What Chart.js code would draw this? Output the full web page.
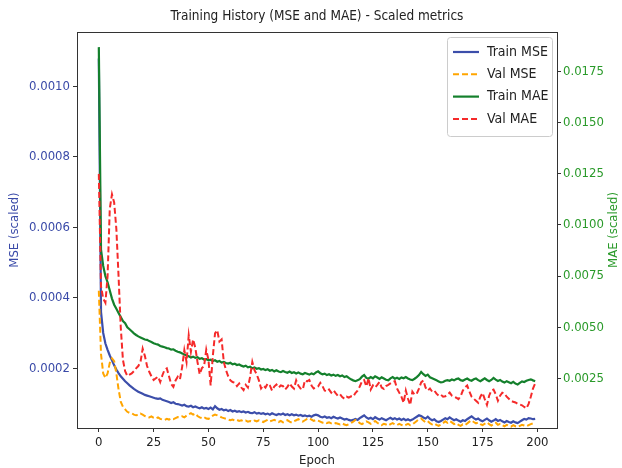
<!DOCTYPE html>
<html>
<head>
<meta charset="utf-8">
<script src="https://cdn.jsdelivr.net/npm/chart.js@4.4.1/dist/chart.umd.min.js"></script>
<style>
  html, body { margin: 0; padding: 0; background: #fff; }
  canvas { display: block; }
</style>
</head>
<body>
<canvas id="chartHistory" width="622" height="468"></canvas>
<script>
// values, one per epoch (0..199)
const epochs = Array.from({length: 200}, (_, i) => i)
const xTicks = [0, 25, 50, 75, 100, 125, 150, 175, 200]

const trainMse = [
  0.00108, 0.00036, 0.00030, 0.00027, 0.000252, 0.000236, 0.000222, 0.000208, 0.000196, 0.000186,
  0.000177, 0.000170, 0.000163, 0.000157, 0.000151, 0.000146, 0.000141, 0.000137, 0.000133, 0.000130,
  0.000127, 0.000124, 0.000122, 0.000120, 0.000118, 0.000116, 0.000114, 0.000113, 0.000114, 0.000110,
  0.000108, 0.000106, 0.000104, 0.000101, 0.000103, 0.000099, 0.000098, 0.000096, 0.000094, 0.000096,
  0.000092, 0.000091, 0.000093, 0.000089, 0.000091, 0.000088, 0.000086, 0.000089, 0.000085, 0.000087,
  0.000084, 0.000088, 0.000083, 0.000092, 0.000086, 0.000082, 0.000084, 0.000080, 0.000082, 0.000078,
  0.000081, 0.000077, 0.000079, 0.000076, 0.000078, 0.000075, 0.000077, 0.000074, 0.000076, 0.000073,
  0.000072, 0.000075, 0.000071, 0.000073, 0.000070, 0.000072, 0.000069, 0.000071, 0.000068, 0.000072,
  0.000069, 0.000067, 0.000070, 0.000068, 0.000071, 0.000067, 0.000069, 0.000066, 0.000069, 0.000066,
  0.000068, 0.000065, 0.000067, 0.000064, 0.000066, 0.000063, 0.000065, 0.000062, 0.000066, 0.000068,
  0.000066, 0.000062, 0.000060, 0.000063, 0.000059, 0.000061, 0.000058, 0.000062, 0.000059, 0.000057,
  0.000060, 0.000057, 0.000054, 0.000056, 0.000053, 0.000051, 0.000053, 0.000056, 0.000053, 0.000058,
  0.000062, 0.000066, 0.000060, 0.000056, 0.000059, 0.000055, 0.000061, 0.000057, 0.000054, 0.000058,
  0.000055, 0.000052, 0.000056, 0.000059, 0.000055, 0.000058, 0.000054, 0.000057, 0.000053, 0.000056,
  0.000052, 0.000055, 0.000051, 0.000054, 0.000058, 0.000062, 0.000066, 0.000064, 0.000060, 0.000057,
  0.000062, 0.000056, 0.000052, 0.000055, 0.000049, 0.000047, 0.000050, 0.000054, 0.000058, 0.000055,
  0.000060, 0.000056, 0.000052, 0.000055, 0.000051, 0.000048, 0.000052, 0.000050, 0.000055, 0.000059,
  0.000063, 0.000058, 0.000054, 0.000057, 0.000052, 0.000049, 0.000053, 0.000057, 0.000052, 0.000048,
  0.000051, 0.000055, 0.000050, 0.000053, 0.000049, 0.000046, 0.000050, 0.000047, 0.000045, 0.000049,
  0.000046, 0.000044, 0.000048, 0.000052, 0.000056, 0.000054, 0.000058, 0.000057, 0.000055, 0.000056
]

const valMse = [
  0.00042, 0.00024, 0.000185, 0.000172, 0.000185, 0.000215, 0.000228, 0.000220, 0.000185, 0.000140,
  0.000105, 0.000090, 0.000083, 0.000076, 0.000073, 0.000072, 0.000068, 0.000066, 0.000067, 0.000071,
  0.000068, 0.000064, 0.000062, 0.000060, 0.000063, 0.000059, 0.000057, 0.000060, 0.000056, 0.000054,
  0.000053, 0.000056, 0.000054, 0.000057, 0.000055, 0.000058, 0.000061, 0.000060, 0.000063, 0.000060,
  0.000065, 0.000069, 0.000072, 0.000068, 0.000071, 0.000064, 0.000060, 0.000058, 0.000061, 0.000057,
  0.000056, 0.000060, 0.000065, 0.000068, 0.000066, 0.000063, 0.000060, 0.000058, 0.000056, 0.000054,
  0.000052, 0.000054, 0.000051, 0.000053, 0.000050, 0.000052, 0.000049, 0.000051, 0.000048, 0.000050,
  0.000048, 0.000051, 0.000049, 0.000052, 0.000050, 0.000047, 0.000050, 0.000053, 0.000049, 0.000051,
  0.000053, 0.000050, 0.000047, 0.000050, 0.000046, 0.000049, 0.000052, 0.000048, 0.000045, 0.000049,
  0.000052, 0.000055, 0.000051, 0.000048, 0.000052, 0.000056, 0.000058, 0.000054, 0.000050, 0.000053,
  0.000051, 0.000048, 0.000045, 0.000047, 0.000044, 0.000046, 0.000043, 0.000041, 0.000044, 0.000042,
  0.000040, 0.000043, 0.000040, 0.000038, 0.000041, 0.000044, 0.000048, 0.000053, 0.000049, 0.000044,
  0.000041, 0.000045, 0.000049, 0.000046, 0.000042, 0.000046, 0.000050, 0.000045, 0.000041, 0.000038,
  0.000042, 0.000040, 0.000037, 0.000041, 0.000044, 0.000040, 0.000038, 0.000042, 0.000039, 0.000036,
  0.000039, 0.000042, 0.000038, 0.000040, 0.000045, 0.000050, 0.000055, 0.000057, 0.000051, 0.000046,
  0.000049, 0.000044, 0.000040, 0.000043, 0.000039, 0.000036, 0.000040, 0.000044, 0.000049, 0.000045,
  0.000050, 0.000046, 0.000041, 0.000044, 0.000039, 0.000036, 0.000040, 0.000038, 0.000043, 0.000048,
  0.000052, 0.000047, 0.000043, 0.000046, 0.000041, 0.000038, 0.000042, 0.000046, 0.000041, 0.000037,
  0.000041, 0.000045, 0.000039, 0.000042, 0.000038, 0.000035, 0.000039, 0.000036, 0.000034, 0.000038,
  0.000035, 0.000033, 0.000036, 0.000039, 0.000037, 0.000035, 0.000038, 0.000041, 0.000043, 0.000045
]

const trainMae = [
  0.0187, 0.0088, 0.0080, 0.0075, 0.0072, 0.0068, 0.0064, 0.0061, 0.0059, 0.0057,
  0.0055, 0.0053, 0.0052, 0.0050, 0.0049, 0.0048, 0.0047, 0.00462, 0.00455, 0.00450,
  0.00445, 0.00440, 0.00438, 0.00432, 0.00428, 0.00422, 0.00418, 0.00415, 0.00408, 0.00405,
  0.00402, 0.00398, 0.00396, 0.00390, 0.00392, 0.00385, 0.00380, 0.00377, 0.00372, 0.00366,
  0.00362, 0.00358, 0.00352, 0.00356, 0.00350, 0.00353, 0.00345, 0.00348, 0.00342, 0.00344,
  0.00338, 0.00341, 0.00334, 0.00338, 0.00331, 0.00335, 0.00327, 0.00330, 0.00325, 0.00322,
  0.00326, 0.00318, 0.00321, 0.00315, 0.00318, 0.00312, 0.00308, 0.00312, 0.00304, 0.00307,
  0.00299, 0.00303, 0.00297, 0.00300, 0.00293, 0.00296, 0.00290, 0.00294, 0.00287, 0.00291,
  0.00284, 0.00289, 0.00283, 0.00280, 0.00286, 0.00281, 0.00277, 0.00283, 0.00276, 0.00280,
  0.00274, 0.00279, 0.00273, 0.00270, 0.00276, 0.00272, 0.00268, 0.00274, 0.00270, 0.00279,
  0.00284, 0.00275, 0.00270, 0.00273, 0.00266, 0.00270, 0.00264, 0.00268, 0.00262, 0.00266,
  0.00260, 0.00264, 0.00256, 0.00260, 0.00252, 0.00245, 0.00240, 0.00236, 0.00241, 0.00246,
  0.00258, 0.00266, 0.00252, 0.00248, 0.00256, 0.00250, 0.00260, 0.00254, 0.00247, 0.00255,
  0.00249, 0.00243, 0.00240, 0.00250, 0.00256, 0.00248, 0.00253, 0.00247, 0.00254, 0.00250,
  0.00256, 0.00249, 0.00244, 0.00241, 0.00248, 0.00256, 0.00266, 0.00281, 0.00270, 0.00262,
  0.00268, 0.00255, 0.00250, 0.00245, 0.00240, 0.00235, 0.00230, 0.00232, 0.00238, 0.00241,
  0.00238, 0.00244, 0.00240, 0.00246, 0.00249, 0.00241, 0.00238, 0.00244, 0.00249, 0.00242,
  0.00238, 0.00245, 0.00249, 0.00241, 0.00236, 0.00243, 0.00250, 0.00242, 0.00236, 0.00242,
  0.00252, 0.00244, 0.00237, 0.00242, 0.00234, 0.00229, 0.00236, 0.00231, 0.00226, 0.00233,
  0.00224, 0.00220, 0.00228, 0.00235, 0.00232, 0.00238, 0.00242, 0.00245, 0.00240, 0.00236
]

const valMae = [
  0.0125, 0.0070, 0.0064, 0.0062, 0.0075, 0.0108, 0.0115, 0.0111, 0.0098, 0.0075,
  0.0050, 0.0034, 0.00285, 0.00262, 0.00268, 0.00274, 0.00285, 0.00299, 0.00310, 0.00330,
  0.00395, 0.00360, 0.00310, 0.00282, 0.00260, 0.00242, 0.00250, 0.00258, 0.00232, 0.00265,
  0.00292, 0.00299, 0.00260, 0.00222, 0.00208, 0.00240, 0.00258, 0.00245, 0.00305, 0.00388,
  0.00330, 0.00460, 0.00380, 0.00440, 0.00400, 0.00330, 0.00270, 0.00300, 0.00310, 0.00390,
  0.00340, 0.00215, 0.00360, 0.00470, 0.00485, 0.00430, 0.00440, 0.00330, 0.00290, 0.00260,
  0.00240, 0.00232, 0.00228, 0.00212, 0.00225, 0.00205, 0.00192, 0.00218, 0.00205, 0.00258,
  0.00330, 0.00290, 0.00270, 0.00240, 0.00200, 0.00215, 0.00205, 0.00225, 0.00215, 0.00190,
  0.00210, 0.00220, 0.00205, 0.00215, 0.00212, 0.00195, 0.00208, 0.00225, 0.00210, 0.00200,
  0.00240, 0.00215, 0.00200, 0.00195, 0.00240, 0.00235, 0.00242, 0.00215, 0.00200, 0.00205,
  0.00210, 0.00228, 0.00212, 0.00190, 0.00185, 0.00195, 0.00180, 0.00192, 0.00178, 0.00165,
  0.00172, 0.00158, 0.00150, 0.00160, 0.00156, 0.00162, 0.00160, 0.00178, 0.00190, 0.00210,
  0.00235, 0.00242, 0.00210, 0.00250, 0.00195, 0.00215, 0.00205, 0.00218, 0.00232, 0.00205,
  0.00198, 0.00212, 0.00218, 0.00225, 0.00232, 0.00236, 0.00200, 0.00180, 0.00160, 0.00130,
  0.00190, 0.00150, 0.00120, 0.00185, 0.00170, 0.00175, 0.00200, 0.00230, 0.00240, 0.00205,
  0.00190, 0.00200, 0.00185, 0.00190, 0.00175, 0.00165, 0.00170, 0.00160, 0.00162, 0.00170,
  0.00180, 0.00165, 0.00160, 0.00155, 0.00148, 0.00162, 0.00190, 0.00205, 0.00215, 0.00185,
  0.00160, 0.00150, 0.00140, 0.00130, 0.00160, 0.00178, 0.00148, 0.00120, 0.00165, 0.00190,
  0.00195, 0.00172, 0.00140, 0.00165, 0.00180, 0.00176, 0.00160, 0.00150, 0.00140, 0.00135,
  0.00132, 0.00125, 0.00122, 0.00118, 0.00110, 0.00103, 0.00125, 0.00160, 0.00200, 0.00225
]

const FONT = "'DejaVu Sans Condensed', 'DejaVu Sans', sans-serif"
const BLUE = '#3c4eaa'
const ORANGE = '#ffa500'
const GREEN = '#14802c'
const RED = '#f52a2a'
const BLUE_TXT = '#3a4aa8'
const GREEN_TXT = '#2a9a2a'

function pts(values) {
  return values.map((v, i) => ({x: epochs[i], y: v}))
}

// frame round the plot, like the matplotlib spines
const framePlugin = {
  id: 'frame',
  afterDraw(chart) {
    const {ctx, chartArea: a} = chart
    ctx.save()
    ctx.strokeStyle = '#333'
    ctx.lineWidth = 1
    ctx.strokeRect(a.left + 0.5, a.top + 0.5, a.right - a.left, a.bottom - a.top)
    ctx.restore()
  }
}

// title over the plot, and the right axis label read bottom to top
const textPlugin = {
  id: 'plotTexts',
  afterDraw(chart) {
    const ctx = chart.ctx
    const a = chart.chartArea
    ctx.save()
    ctx.font = '13.5px ' + FONT
    ctx.fillStyle = '#222'
    ctx.textAlign = 'center'
    ctx.textBaseline = 'middle'
    ctx.fillText('Training History (MSE and MAE) - Scaled metrics', (a.left + a.right) / 2, 16)
    ctx.translate(614, (a.top + a.bottom) / 2)
    ctx.rotate(-Math.PI / 2)
    ctx.font = '13px ' + FONT
    ctx.fillStyle = GREEN_TXT
    ctx.fillText('MAE (scaled)', 0, 0)
    ctx.restore()
  }
}

// legend box in the upper right of the plot
const legendPlugin = {
  id: 'boxLegend',
  afterDraw(chart) {
    const ctx = chart.ctx
    const a = chart.chartArea
    const x0 = a.right - 110, y0 = a.top + 5, w = 105, h = 99
    ctx.save()
    ctx.fillStyle = 'rgba(255,255,255,0.85)'
    ctx.strokeStyle = '#cccccc'
    ctx.lineWidth = 1
    ctx.beginPath()
    ctx.roundRect(x0 + 0.5, y0 + 0.5, w, h, 3)
    ctx.fill()
    ctx.stroke()
    ctx.font = '14px ' + FONT
    ctx.textBaseline = 'middle'
    chart.data.datasets.forEach((ds, i) => {
      const y = y0 + 15 + i * 22.3
      ctx.strokeStyle = ds.borderColor
      ctx.lineWidth = ds.borderWidth
      ctx.setLineDash(ds.borderDash || [])
      ctx.beginPath()
      ctx.moveTo(x0 + 6, y)
      ctx.lineTo(x0 + 32, y)
      ctx.stroke()
      ctx.setLineDash([])
      ctx.fillStyle = '#222'
      ctx.fillText(ds.label, x0 + 40, y)
    })
    ctx.restore()
  }
}

const chartHistory = new Chart(document.getElementById('chartHistory'), {
  type: 'line',
  data: {
    datasets: [
      {label: 'Train MSE', data: pts(trainMse), yAxisID: 'y', borderColor: BLUE, borderWidth: 2.2, order: 4},
      {label: 'Val MSE', data: pts(valMse), yAxisID: 'y', borderColor: ORANGE, borderWidth: 2, borderDash: [6, 3], order: 3},
      {label: 'Train MAE', data: pts(trainMae), yAxisID: 'y1', borderColor: GREEN, borderWidth: 2.2, order: 2},
      {label: 'Val MAE', data: pts(valMae), yAxisID: 'y1', borderColor: RED, borderWidth: 2, borderDash: [6, 3], order: 1}
    ]
  },
  options: {
    responsive: false,
    animation: false,
    devicePixelRatio: 1,
    layout: {padding: {top: 32, left: 0, right: 0, bottom: 0}},
    elements: {point: {radius: 0}, line: {tension: 0, fill: false}},
    plugins: {legend: {display: false}, tooltip: {enabled: false}, title: {display: false}},
    scales: {
      x: {
        type: 'linear',
        min: -9.95,
        max: 208.95,
        afterFit: (s) => { s.height = 40 },
        afterBuildTicks: (s) => { s.ticks = xTicks.map(v => ({value: v})) },
        border: {display: false},
        grid: {drawOnChartArea: false, tickLength: 4, color: '#333'},
        ticks: {padding: 3, color: '#222', font: {family: FONT, size: 13}, maxRotation: 0},
        title: {display: true, text: 'Epoch', color: '#222', font: {family: FONT, size: 13}, padding: {top: 0, bottom: 0}}
      },
      y: {
        position: 'left',
        min: 0.00003,
        max: 0.001155,
        afterFit: (s) => { s.width = 77 },
        border: {display: false},
        grid: {drawOnChartArea: false, tickLength: 4, color: '#333'},
        ticks: {stepSize: 0.0002, includeBounds: false, padding: 3, color: BLUE_TXT,
          font: {family: FONT, size: 13}, callback: (v) => v.toFixed(4)},
        title: {display: true, text: 'MSE (scaled)', color: BLUE_TXT, font: {family: FONT, size: 13}, padding: {top: 7, bottom: 0}}
      },
      y1: {
        position: 'right',
        min: 0.00007,
        max: 0.01944,
        afterFit: (s) => { s.width = 65 },
        border: {display: false},
        grid: {drawOnChartArea: false, tickLength: 4, color: '#333'},
        ticks: {stepSize: 0.0025, includeBounds: false, padding: 2, color: GREEN_TXT,
          font: {family: FONT, size: 13}, callback: (v) => v.toFixed(4)},
        title: {display: false}
      }
    }
  },
  plugins: [framePlugin, textPlugin, legendPlugin]
})
</script>
</body>
</html>
